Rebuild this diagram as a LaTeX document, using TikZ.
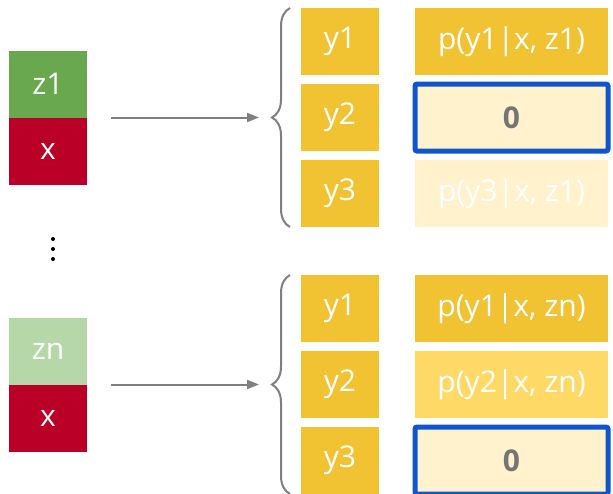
\documentclass[tikz,border=0pt]{standalone}
\usepackage{fontspec}
\setmainfont{Open Sans}
\usetikzlibrary{positioning,arrows.meta,decorations.pathreplacing}
\definecolor{sampGold}{HTML}{F1C232}
\definecolor{sampMid}{HTML}{FFD966}
\definecolor{sampPale}{HTML}{FFF2CC}
\definecolor{sampGreen}{HTML}{6AA84F}
\definecolor{sampLight}{HTML}{B6D7A8}
\definecolor{sampRed}{RGB}{187,0,39}
\definecolor{sampBlue}{HTML}{1155CC}
\definecolor{sampGray}{HTML}{7F7F7F}
\definecolor{sampZero}{HTML}{757575}

\begin{document}
\begin{tikzpicture}[x=1pt, y=1pt,
    cell/.style={minimum width=78pt, minimum height=67pt, inner sep=0pt, outer sep=0pt,
      text=white, font=\fontsize{30}{36}\selectfont},
    ybox/.style={cell, fill=sampGold},
    prob/.style={cell, fill=sampGold, minimum width=193pt},
    zero/.style={prob, fill=sampPale, draw=sampBlue, line width=5pt, rounded corners=2pt,
      text=sampZero, font=\fontsize{30}{36}\selectfont\bfseries},
    arrow/.style={-{Triangle[length=12pt, width=9pt]}, line width=2pt, color=sampGray},
    brace/.style={decorate, decoration={brace, amplitude=18pt}, line width=2pt, color=sampGray}
  ]
    \useasboundingbox (0,0) rectangle (613,-493);

    \node[ybox] (y1a) at (340,-41.5) {y1};
    \node[ybox, below=9pt of y1a] (y2a) {y2};
    \node[ybox, below=9pt of y2a] (y3a) {y3};
    \node[prob, right=36pt of y1a] (p1a) {p(y1|x, z1)};
    \node[zero, right=36pt of y2a] (p2a) {0};
    \node[prob, fill=sampPale, right=36pt of y3a] (p3a) {p(y3|x, z1)};

    \node[ybox] (y1b) at (340,-308.5) {y1};
    \node[ybox, below=9pt of y1b] (y2b) {y2};
    \node[ybox, below=9pt of y2b] (y3b) {y3};
    \node[prob, right=36pt of y1b] (p1b) {p(y1|x, zn)};
    \node[prob, fill=sampMid, right=36pt of y2b] (p2b) {p(y2|x, zn)};
    \node[zero, right=36pt of y3b] (p3b) {0};

    \node[cell, fill=sampGreen] (z1) at (48,-84) {z1};
    \node[cell, fill=sampRed, below=0pt of z1] (x1) {x};
    \node[cell, fill=sampLight] (zn) at (48,-351) {zn};
    \node[cell, fill=sampRed, below=0pt of zn] (xn) {x};

    \foreach \d in {239,249,259}
      \fill (53,-\d) circle (2pt);

    \draw[brace] ([xshift=-11pt]y3a.south west) -- ([xshift=-11pt]y1a.north west);
    \draw[brace] ([xshift=-11pt]y3b.south west) -- ([xshift=-11pt]y1b.north west);
    \draw[arrow] ([xshift=24pt]z1.south east) -- ([xshift=-42pt]y2a.west);
    \draw[arrow] ([xshift=24pt]zn.south east) -- ([xshift=-42pt]y2b.west);
  \end{tikzpicture}
\end{document}
